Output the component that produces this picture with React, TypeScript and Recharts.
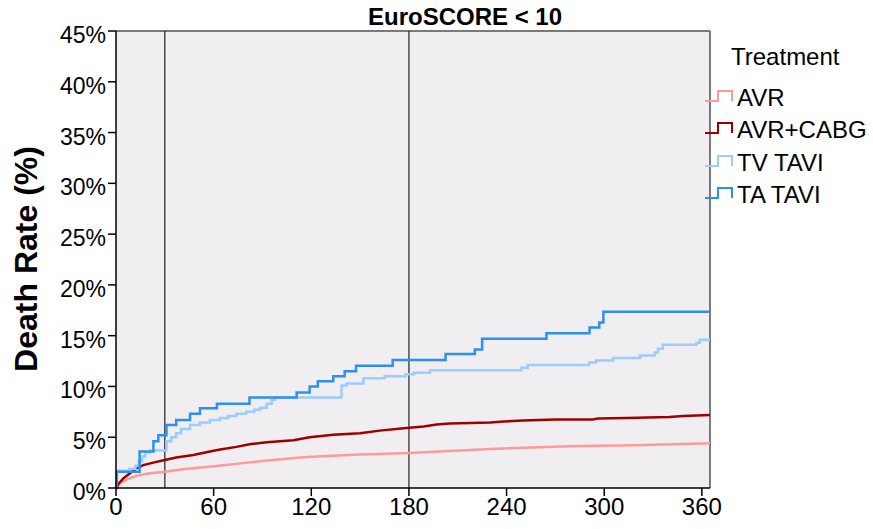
import React from 'react';
import { LineChart, Line, XAxis, YAxis, CartesianGrid, ReferenceLine } from 'recharts';

const FONT = '"Liberation Sans", Arial, sans-serif';

const seriesNames = ['AVR', 'AVR+CABG', 'TV TAVI', 'TA TAVI'];
const seriesColors = ['#FF9A9A', '#9E0000', '#9CCBFF', '#2F8FF0'];

const xTicks = [0, 60, 120, 180, 240, 300, 360];
const yTicks = [0, 5, 10, 15, 20, 25, 30, 35, 40, 45];
const refDays = [30, 180];

// [day, death rate %]
const avr: number[][] = [
  [0, 0], [2.5, 0.45], [6.6, 0.85], [12.7, 1.2], [20.9, 1.45], [30, 1.6], [41, 1.85],
  [53.6, 2.05], [66, 2.25], [78, 2.45], [90, 2.65], [113, 3.0], [123, 3.1], [150, 3.3],
  [180, 3.45], [230, 3.85], [279, 4.1], [297, 4.15], [319, 4.2], [365, 4.4],
];

const avrCabg: number[][] = [
  [0, 0], [2, 0.5], [4.5, 0.95], [8.6, 1.45], [12.7, 1.95], [16.8, 2.25], [22.9, 2.5],
  [30, 2.75], [37, 3.0], [47.5, 3.25], [57.7, 3.6], [64, 3.8], [74, 4.05], [82, 4.3],
  [92.6, 4.5], [109, 4.7], [119, 5.0], [133.5, 5.25], [150, 5.4], [162, 5.65], [178.5, 5.9],
  [189, 6.05], [197, 6.25], [205, 6.35], [230, 6.45], [238, 6.55], [250, 6.65], [270, 6.75],
  [293, 6.75], [296, 6.85], [314, 6.9], [340, 7.0], [348.5, 7.1], [365, 7.2],
];

const tvTavi: number[][] = [
  [0, 0], [0.5, 1.7], [8, 1.9], [12, 2.2], [14, 2.6], [16, 3.1], [18, 3.5], [21, 3.7],
  [31, 4.6], [34, 5.0], [37, 5.4], [40, 5.8], [45.5, 6.2], [51.6, 6.45], [57.7, 6.7],
  [64, 6.9], [69, 7.1], [74, 7.3], [80, 7.5], [85, 7.7], [88.5, 7.9], [92.6, 8.3],
  [95.6, 8.7], [97.7, 8.9], [138.6, 10.1], [141.7, 10.3], [152, 10.8], [165, 11.0],
  [178, 11.2], [183, 11.35], [193, 11.6], [249, 11.85], [253, 12.1], [290.7, 12.35],
  [295, 12.55], [305.5, 12.8], [322, 13.05], [331, 13.35], [333, 13.7], [336, 14.1],
  [356.7, 14.3], [358.7, 14.6], [365, 14.6],
];

const taTavi: number[][] = [
  [0, 0], [0.5, 1.6], [14.5, 3.6], [23, 4.6], [26, 5.2], [31, 6.2], [37, 6.7], [45.5, 7.3],
  [51.6, 7.85], [62, 8.3], [82, 8.9], [111, 9.4], [119, 10.0], [124, 10.5], [133.5, 11.0],
  [140.5, 11.5], [147.5, 12.05], [170, 12.6], [202.5, 13.2], [220.5, 13.65], [225, 14.7],
  [264.5, 15.25], [291, 15.8], [297, 16.3], [299.5, 17.35], [365, 17.35],
];

const toRows = (arr: number[][]) => arr.map(([day, rate]) => ({ day, rate }));

const seriesData = [avr, avrCabg, tvTavi, taTavi].map(toRows);
const seriesTypes: ('linear' | 'stepAfter')[] = ['linear', 'linear', 'stepAfter', 'stepAfter'];

const YTick = (props: any) => {
  const { x, y, payload } = props;
  return (
    <text x={x} y={y + 4} textAnchor="end" dominantBaseline="central" fontSize={23} fontFamily={FONT} fill="#000">
      {payload.value}%
    </text>
  );
};

const XTick = (props: any) => {
  const { x, y, payload } = props;
  return (
    <text x={x} y={y} textAnchor="middle" dy="0.71em" fontSize={24} fontFamily={FONT} fill="#000">
      {payload.value}
    </text>
  );
};

export default function App() {
  return (
    <div style={{ position: 'relative', width: 873, height: 529, background: '#fff', fontFamily: FONT }}>
      <style>{'body{margin:0}'}</style>
      <LineChart
        width={873}
        height={529}
        margin={{ top: 31, right: 163, bottom: 11, left: 0 }}
      >
        <CartesianGrid fill="#F0EEF0" horizontal={false} vertical={false} stroke="none" />
        <XAxis
          type="number"
          dataKey="day"
          domain={[0, 365]}
          ticks={xTicks}
          height={30}
          tickSize={8}
          tickMargin={2}
          tick={<XTick />}
          axisLine={{ stroke: '#000', strokeWidth: 1.5 }}
          tickLine={{ stroke: '#000', strokeWidth: 1.5 }}
          allowDuplicatedCategory={false}
        />
        <YAxis
          type="number"
          dataKey="rate"
          domain={[0, 45]}
          ticks={yTicks}
          width={116}
          tickSize={8}
          tickMargin={2}
          tick={<YTick />}
          axisLine={{ stroke: '#000', strokeWidth: 1.5 }}
          tickLine={{ stroke: '#000', strokeWidth: 1.5 }}
        />
        <ReferenceLine y={45} stroke="#7a7a7a" strokeWidth={2} />
        <ReferenceLine x={365} stroke="#7a7a7a" strokeWidth={2} />
        {refDays.map((d) => (
          <ReferenceLine key={d} x={d} stroke="#222" strokeWidth={1.2} />
        ))}
        {seriesData.map((rows, i) => (
          <Line
            key={seriesNames[i]}
            data={rows}
            dataKey="rate"
            name={seriesNames[i]}
            type={seriesTypes[i]}
            stroke={seriesColors[i]}
            strokeWidth={2.5}
            dot={false}
            activeDot={false}
            isAnimationActive={false}
          />
        ))}
      </LineChart>

      <div
        style={{
          position: 'absolute', left: 315, width: 300, top: 3, textAlign: 'center',
          fontWeight: 'bold', fontSize: 24, lineHeight: '28px', color: '#000',
        }}
      >
        EuroSCORE &lt; 10
      </div>

      <svg style={{ position: 'absolute', left: 0, top: 0 }} width={60} height={529}>
        <text
          x={26}
          y={259}
          transform="rotate(-90 26 259)"
          textAnchor="middle"
          dominantBaseline="central"
          fontWeight="bold"
          fontSize={32}
          fontFamily={FONT}
          fill="#000"
        >
          Death Rate (%)
        </text>
      </svg>

      <div style={{ position: 'absolute', left: 731, top: 43, fontSize: 24, lineHeight: '28px', color: '#000' }}>
        Treatment
      </div>
      {seriesNames.map((name, i) => (
        <div
          key={name}
          style={{
            position: 'absolute', left: 704, top: 82 + i * 32.3, height: 32, display: 'flex',
            alignItems: 'center', fontSize: 24, color: '#000',
          }}
        >
          <svg width={32} height={24} style={{ display: 'block' }}>
            <path d="M1,15 H14 V5 H28 V15" fill="none" stroke={seriesColors[i]} strokeWidth={2} />
          </svg>
          <span style={{ marginLeft: 1, lineHeight: '28px' }}>{name}</span>
        </div>
      ))}
    </div>
  );
}
